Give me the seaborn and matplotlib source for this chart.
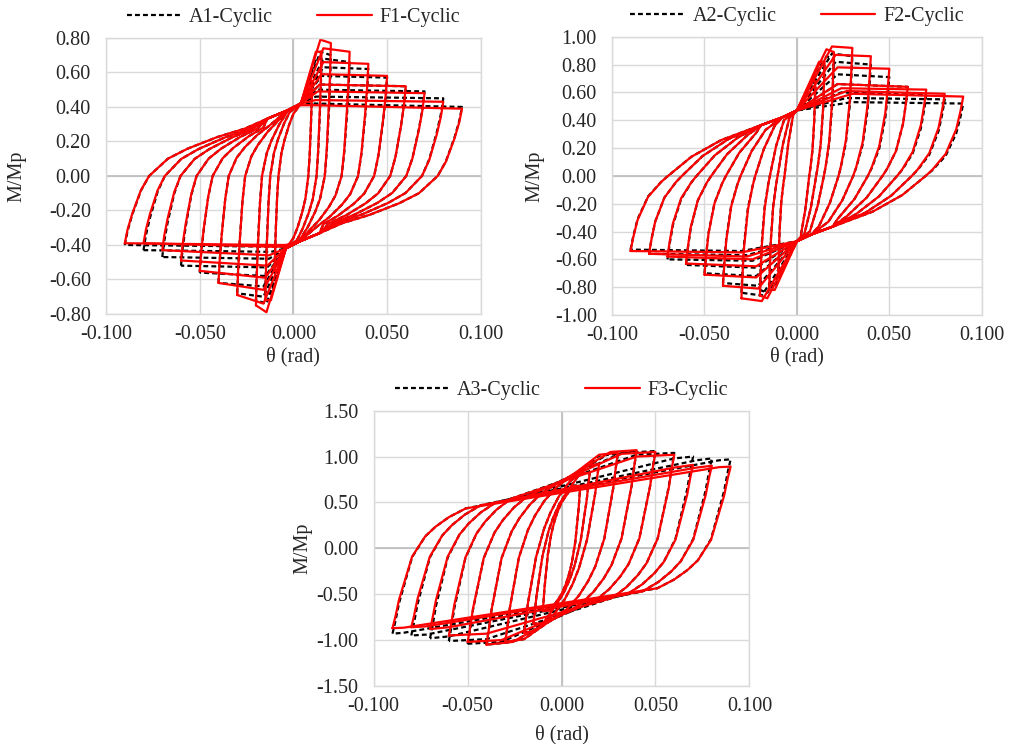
import numpy as np
import pandas as pd
import seaborn as sns
import matplotlib.pyplot as plt

sns.set_style('white')
plt.rcParams.update({'font.family': ['Liberation Serif', 'DejaVu Serif'],
                     'font.size': 14.5, 'axes.unicode_minus': False})

# drift amplitudes of the cycles (rad)
amps = [0.01, 0.015, 0.02, 0.03, 0.04, 0.05, 0.06, 0.07, 0.08, 0.09]

# ---- panel 1 (A1 / F1): outer reloading branch of the last cycle
p1_branch_x = [-0.090, -0.0885, -0.0860, -0.0814, -0.0770, -0.0670, -0.0565, -0.0405, -0.0260]
p1_branch_y = [-0.39, -0.31, -0.218, -0.083, 0.0, 0.10, 0.158, 0.226, 0.274]
# common pinched path shared by all cycles
p1_pinch_x = [-0.0139, -0.0032, 0.004]
p1_pinch_y = [0.332, 0.38, 0.42]
p1_knee_x = [0.000, -0.002, -0.004, -0.009, -0.013, -0.016, -0.019, -0.022, -0.024, -0.026]
p1_knee_y = [0.36, 0.37, 0.36, 0.31, 0.29, 0.28, 0.275, 0.27, 0.27, 0.274]
p1_corner_x = [0.008, 0.012, 0.0144, 0.016, 0.016, 0.015, 0.014, 0.013, 0.012, 0.011]
f1_pos_peak = [0.55, 0.72, 0.79, 0.74, 0.66, 0.59, 0.53, 0.49, 0.44, 0.41]
f1_pos_tip = [0.55, 0.72, 0.77, 0.72, 0.65, 0.58, 0.52, 0.48, 0.43, 0.39]
f1_neg_peak = [-0.55, -0.72, -0.79, -0.74, -0.66, -0.59, -0.52, -0.46, -0.41, -0.40]
f1_neg_tip = [-0.55, -0.72, -0.75, -0.69, -0.62, -0.55, -0.49, -0.43, -0.39, -0.39]
a1_pos_peak = [0.54, 0.68, 0.72, 0.68, 0.63, 0.58, 0.53, 0.50, 0.46, 0.42]
a1_pos_tip = [0.54, 0.68, 0.70, 0.66, 0.62, 0.57, 0.52, 0.49, 0.45, 0.40]
a1_neg_peak = [-0.54, -0.68, -0.74, -0.70, -0.64, -0.58, -0.53, -0.48, -0.44, -0.41]
a1_neg_tip = [-0.54, -0.68, -0.72, -0.68, -0.62, -0.56, -0.52, -0.47, -0.43, -0.40]

# ---- panel 2 (A2 / F2)
p2_branch_x = [-0.090, -0.0885, -0.0862, -0.0805, -0.0733, -0.0697, -0.0570, -0.0410]
p2_branch_y = [-0.54, -0.44, -0.317, -0.15, -0.042, 0.0, 0.138, 0.257]
p2_pinch_x = [-0.0193, -0.008, 0.0]
p2_pinch_y = [0.365, 0.42, 0.47]
p2_knee_x = [-0.002, -0.004, -0.007, -0.012, -0.017, -0.022, -0.027, -0.032, -0.037, -0.041]
p2_knee_y = [0.44, 0.42, 0.40, 0.36, 0.33, 0.31, 0.29, 0.275, 0.265, 0.257]
p2_corner_x = [0.008, 0.012, 0.016, 0.019, 0.021, 0.022, 0.022, 0.024, 0.027, 0.030]
f2_pos_peak = [0.68, 0.82, 0.91, 0.93, 0.87, 0.78, 0.66, 0.63, 0.61, 0.59]
f2_pos_tip = [0.68, 0.82, 0.89, 0.92, 0.86, 0.77, 0.64, 0.62, 0.59, 0.57]
f2_neg_peak = [-0.68, -0.82, -0.88, -0.90, -0.81, -0.73, -0.65, -0.60, -0.58, -0.55]
f2_neg_tip = [-0.68, -0.82, -0.86, -0.88, -0.79, -0.71, -0.63, -0.58, -0.56, -0.54]
a2_pos_peak = [0.67, 0.80, 0.86, 0.88, 0.82, 0.73, 0.66, 0.60, 0.56, 0.53]
a2_pos_tip = [0.67, 0.80, 0.84, 0.86, 0.80, 0.71, 0.64, 0.58, 0.55, 0.52]
a2_neg_peak = [-0.67, -0.80, -0.84, -0.86, -0.79, -0.72, -0.66, -0.61, -0.57, -0.54]
a2_neg_tip = [-0.67, -0.80, -0.82, -0.84, -0.77, -0.70, -0.64, -0.60, -0.56, -0.53]

# ---- panel 3 (A3 / F3)
p3_branch_x = [-0.090, -0.0885, -0.0865, -0.0795, -0.0725, -0.0670, -0.0598, -0.0508]
p3_branch_y = [-0.87, -0.75, -0.56, -0.09, 0.13, 0.235, 0.34, 0.435]
p3_pinch_x = []
p3_pinch_y = []
p3_knee_x = [0.000, 0.003, 0.004, -0.003, -0.010, -0.018, -0.027, -0.035, -0.043, -0.051]
p3_knee_y = [0.50, 0.62, 0.72, 0.66, 0.61, 0.57, 0.54, 0.50, 0.47, 0.435]
p3_corner_x = [0.006, 0.010, 0.014, 0.020, 0.026, 0.032, 0.040, 0.060, 0.072, 0.084]
f3_pos_peak = [0.68, 0.82, 0.90, 1.02, 1.05, 1.03, 1.00, 0.88, 0.88, 0.885]
f3_pos_tip = [0.68, 0.82, 0.92, 1.04, 1.07, 1.05, 1.02, 0.91, 0.90, 0.89]
f3_neg_peak = [-0.68, -0.82, -0.90, -0.99, -1.02, -1.00, -0.93, -0.86, -0.85, -0.865]
f3_neg_tip = [-0.68, -0.82, -0.92, -1.02, -1.05, -1.02, -0.95, -0.88, -0.86, -0.87]
a3_pos_peak = [0.68, 0.82, 0.90, 1.01, 1.04, 1.04, 1.02, 0.98, 0.96, 0.96]
a3_pos_tip = [0.68, 0.82, 0.92, 1.03, 1.06, 1.06, 1.04, 1.00, 0.98, 0.97]
a3_neg_peak = [-0.68, -0.82, -0.90, -0.99, -1.02, -1.02, -0.99, -0.96, -0.94, -0.92]
a3_neg_tip = [-0.68, -0.82, -0.92, -1.02, -1.05, -1.04, -1.01, -0.98, -0.95, -0.93]


def half_branch(a, start_y, peak_y, end_y, knee, knee_y, xc, bx, by, px, py):
    # branch from (-a, start_y) to (a, end_y): outer branch shape squeezed to the knee,
    # then the shared pinch path, then up to the peak and along to the tip
    x0, xk, yk = bx[0], bx[-1], by[-1]
    k = (knee + a) / (xk - x0)
    sy = min(knee_y, peak_y) / yk
    xs = [-a + (x - x0) * k for x in bx]
    ys = [y * start_y / by[0] if y < 0 else y * sy for y in by]
    for x, y in zip(px, py):
        if x > knee and x < xc:
            xs.append(x)
            ys.append(min(y, peak_y))
    return xs + [xc, a], ys + [peak_y, end_y]


def build(label, pos_peak, pos_tip, neg_peak, neg_tip, shape):
    knees, knees_y, corner, bx, by, px, py = shape
    rows = []
    for i, a in enumerate(amps):
        ux, uy = half_branch(a, neg_tip[i], pos_peak[i], pos_tip[i], knees[i], knees_y[i],
                             corner[i], bx, by, px, py)
        lx, ly = half_branch(a, -pos_tip[i], -neg_peak[i], -neg_tip[i], knees[i], knees_y[i],
                             corner[i], bx, by, px, py)
        xs = ux + [-v for v in lx[1:]]
        ys = uy + [-v for v in ly[1:]]
        for x, y in zip(xs, ys):
            rows.append({'series': label, 'loop': f'{label}-{i}', 'x': x, 'y': y})
    return rows


panels = [
    (('A1-Cyclic', a1_pos_peak, a1_pos_tip, a1_neg_peak, a1_neg_tip),
     ('F1-Cyclic', f1_pos_peak, f1_pos_tip, f1_neg_peak, f1_neg_tip),
     (p1_knee_x, p1_knee_y, p1_corner_x, p1_branch_x, p1_branch_y, p1_pinch_x, p1_pinch_y), 0.8, 0.2),
    (('A2-Cyclic', a2_pos_peak, a2_pos_tip, a2_neg_peak, a2_neg_tip),
     ('F2-Cyclic', f2_pos_peak, f2_pos_tip, f2_neg_peak, f2_neg_tip),
     (p2_knee_x, p2_knee_y, p2_corner_x, p2_branch_x, p2_branch_y, p2_pinch_x, p2_pinch_y), 1.0, 0.2),
    (('A3-Cyclic', a3_pos_peak, a3_pos_tip, a3_neg_peak, a3_neg_tip),
     ('F3-Cyclic', f3_pos_peak, f3_pos_tip, f3_neg_peak, f3_neg_tip),
     (p3_knee_x, p3_knee_y, p3_corner_x, p3_branch_x, p3_branch_y, p3_pinch_x, p3_pinch_y), 1.5, 0.5),
]

positions = [[0.105, 0.578, 0.371, 0.371],
             [0.606, 0.5766, 0.366, 0.374],
             [0.370, 0.078, 0.372, 0.370]]
ylabel_x = [-0.213, -0.183, -0.162]
xlabel_y = [-0.12, -0.116, -0.142]

fig = plt.figure(figsize=(10.1, 7.44), dpi=100)

for p, (sa, sf, shape, ylim, ystep) in enumerate(panels):
    ax = fig.add_axes(positions[p])
    df = pd.DataFrame(build(*sa, shape) + build(*sf, shape))
    sns.lineplot(data=df, x='x', y='y', hue='series', style='series', units='loop',
                 estimator=None, sort=False, hue_order=[sa[0], sf[0]], style_order=[sa[0], sf[0]],
                 palette={sa[0]: 'black', sf[0]: '#FF0000'},
                 dashes={sa[0]: (2.2, 1.4), sf[0]: ''}, linewidth=1.6, ax=ax)

    ax.set_xlim(-0.1, 0.1)
    ax.set_ylim(-ylim, ylim)
    xt = [-0.1, -0.05, 0.0, 0.05, 0.1]
    ax.set_xticks(xt)
    ax.set_xticklabels([f'{v:.3f}' for v in xt])
    yt = np.round(np.arange(-ylim, ylim + 1e-9, ystep), 2)
    ax.set_yticks(yt)
    ax.set_yticklabels([f'{v + 0.0:.2f}' if abs(v) > 1e-9 else '0.00' for v in yt])
    ax.tick_params(length=0, labelsize=14.5)
    ax.tick_params(axis='y', pad=11)
    ax.tick_params(axis='x', pad=8)
    ax.grid(True, color='#D9D9D9', linewidth=1.0)
    ax.set_axisbelow(True)
    ax.axhline(0, color='#C0C0C0', linewidth=1.3, zorder=1)
    ax.axvline(0, color='#C0C0C0', linewidth=1.3, zorder=1)
    for sp in ax.spines.values():
        sp.set_color('#D9D9D9')
        sp.set_linewidth(1.0)

    ax.set_xlabel('θ (rad)', fontsize=14.5)
    ax.set_ylabel('M/Mp', fontsize=14.5)
    ax.xaxis.set_label_coords(0.5, xlabel_y[p])
    ax.yaxis.set_label_coords(ylabel_x[p], 0.5)

    sns.move_legend(ax, 'lower center', bbox_to_anchor=(0.5, 1.0), ncol=2, title=None,
                    frameon=False, fontsize=14.5, handlelength=2.7, columnspacing=2.2,
                    borderaxespad=0.15, handletextpad=0.4)

fig.savefig('out.png', dpi=100)
